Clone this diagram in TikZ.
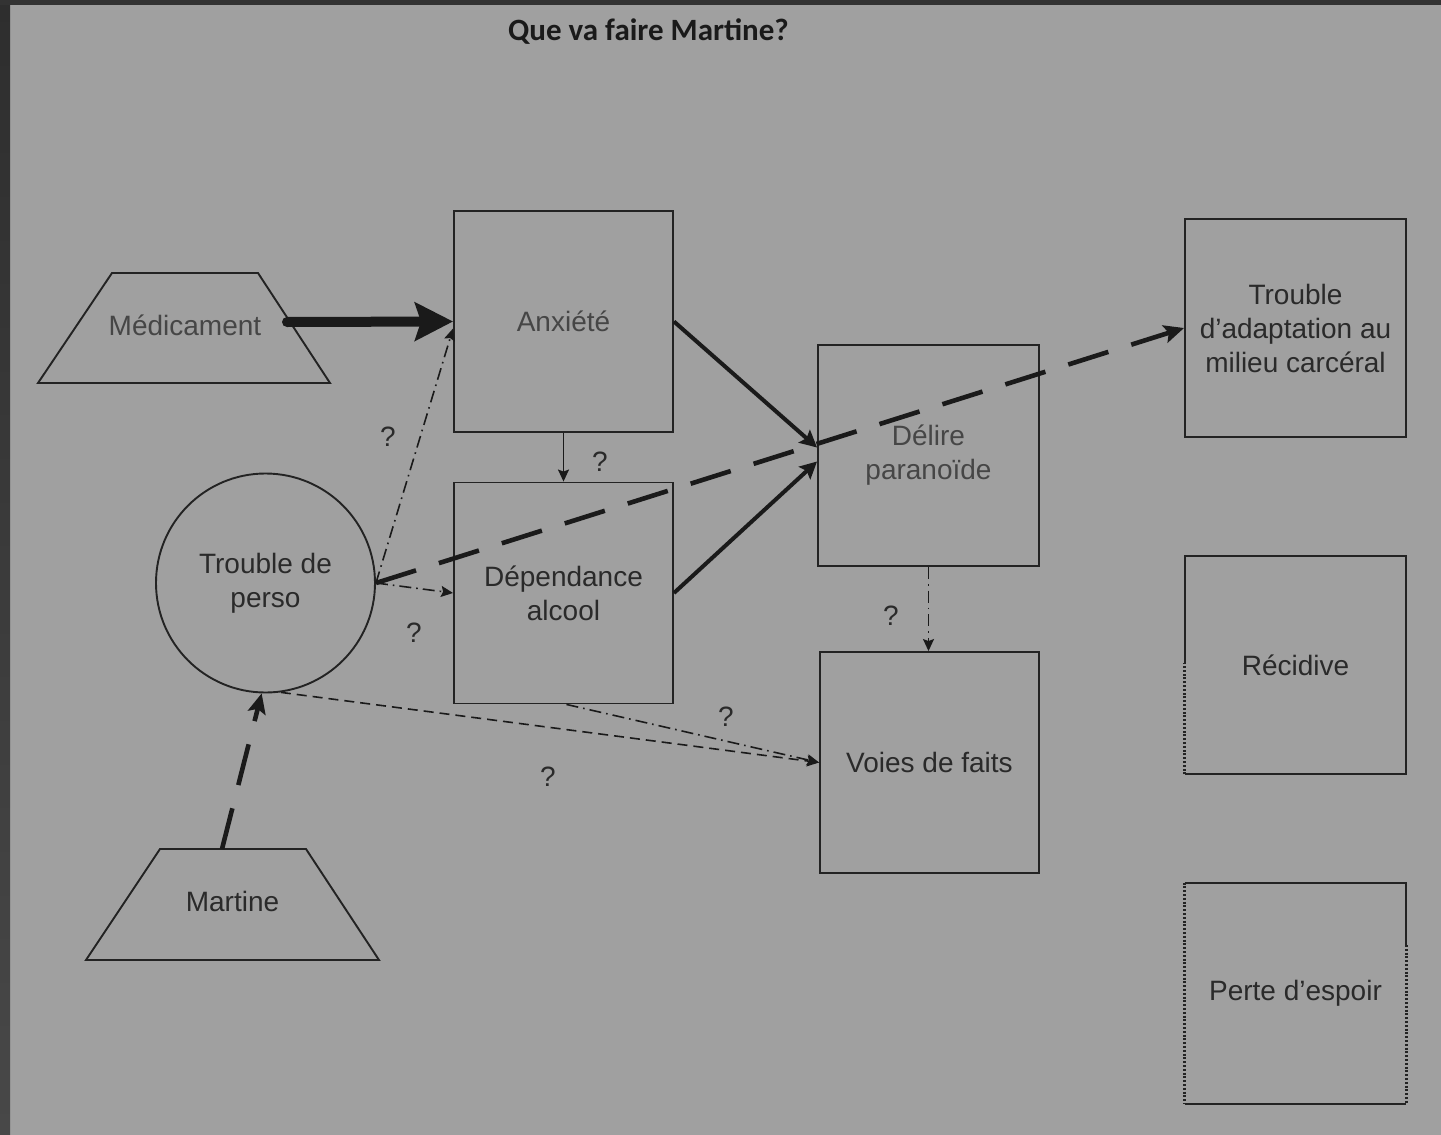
\documentclass[tikz,border=0pt]{standalone}
\usepackage{fontspec}
\setmainfont{Liberation Sans}
\newfontfamily\titlefont{Carlito}
\usetikzlibrary{arrows.meta,calc}
\definecolor{bg}{HTML}{A0A0A0}
\definecolor{frametop}{HTML}{2E2E2E}
\definecolor{framebot}{HTML}{484848}
\definecolor{ink}{HTML}{1A1A1A}
\definecolor{edge}{HTML}{232323}
\definecolor{txt}{HTML}{2A2A2A}
\definecolor{txtsoft}{HTML}{464646}

\begin{document}
\begin{tikzpicture}[x=0.5pt,y=-0.5pt,
  lbl/.style={font=\fontsize{14}{17}\selectfont, text=txt, align=center},
  box/.style={lbl, draw=edge, line width=0.95pt, minimum width=109.5pt,
              minimum height=110.5pt, inner sep=0pt},
  openbox/.style={lbl, minimum width=110.5pt, minimum height=109pt, inner sep=0pt},
  outline/.style={draw=edge, line width=0.95pt, line join=miter},
  round/.style={lbl, draw=edge, line width=0.95pt, circle, minimum size=109.5pt, inner sep=0pt},
  qmark/.style={font=\fontsize{14}{17}\selectfont, text=txt},
  dotline/.style={draw=edge, line width=1.2pt, dash pattern=on 1pt off 0.9pt},
  solidline/.style={draw=edge, line width=0.95pt},
  heavy/.style={draw=ink, line width=5pt, line cap=round,
                -{Stealth[length=19pt,width=19pt,inset=3pt]}},
  strong/.style={draw=ink, line width=2pt, -{Stealth[length=8.5pt,width=8.5pt,inset=1.5pt]}},
  longdash/.style={draw=ink, line width=2.3pt, dash pattern=on 21pt off 12pt,
                   -{Stealth[length=10pt,width=9pt,inset=2pt]}},
  thin/.style={draw=ink, line width=0.8pt, -{Stealth[length=6pt,width=5.5pt,inset=1pt]}},
  dashdot/.style={thin, dash pattern=on 6pt off 2.5pt on 0.8pt off 2.5pt},
  shortdash/.style={thin, dash pattern=on 5pt off 3pt}]

% page and dark frame
\useasboundingbox (0,0) rectangle (1441,1135);
\fill[bg] (0,0) rectangle (1441,1135);
\shade[top color=frametop, bottom color=framebot] (0,0) rectangle (10,1135);
\fill[frametop!80!framebot] (0,0) rectangle (1441,5);

% title
\node[font=\titlefont\bfseries\fontsize{15.5}{18}\selectfont, text=ink] (title) at (648.5,32) {Que va faire Martine?};

% trapezoid inputs
\draw[outline] (112,273) -- (258,273) -- (330,383) -- (38,383) -- cycle;
\node[lbl, text=txtsoft] (medic) at (185,325) {Médicament};
\coordinate (medicout) at (287,322);
\draw[outline] (160,849) -- (306,849) -- (379,960) -- (86,960) -- cycle;
\node[lbl] (martine) at (232.5,901) {Martine};
\coordinate (martinetop) at (222,849);

% nodes
\node[round] (tp) at (265.5,583) {Trouble de\\perso};
\node[box, text=txtsoft] (anx) at (563.5,321.5) {Anxiété};
\node[box] (dep) at (563.5,593) {Dépendance\\alcool};
\node[box, minimum width=110.5pt, text=txtsoft] (delire) at (928.5,455.5) {Délire\\paranoïde};
\node[box] (voies) at (929.5,762.5) {Voies de faits};
\node[box, minimum width=110.5pt, minimum height=109pt] (trad) at (1295.5,328) {Trouble\\d’adaptation au\\milieu carcéral};
\node[openbox] (recid) at (1295.5,665) {Récidive};
\node[openbox, minimum height=110.5pt] (perte) at (1295.5,993.5) {Perte d’espoir};

% partly dotted outlines
\draw[solidline] (recid.west |- 0,663) -- (recid.north west) -- (recid.north east)
  -- (recid.south east) -- (recid.south west);
\draw[dotline] (recid.south west) -- (recid.west |- 0,663);
\draw[solidline] (perte.south west) -- (perte.south east);
\draw[solidline] (perte.north west) -- (perte.north east) -- (perte.east |- 0,945);
\draw[dotline] (perte.east |- 0,945) -- (perte.south east);
\draw[dotline] (perte.north west) -- (perte.south west);

% connectors
\draw[heavy] (medicout) -- (anx.west);
\draw[strong] (anx.east) -- ($(delire.west)+(0,-8)$);
\draw[strong] (dep.east) -- ($(delire.west)+(0,6)$);
\draw[thin] (anx.south) -- (dep.north);
\draw[dashdot] (tp.east) -- ($(anx.west)+(0,7)$);
\draw[dashdot] (tp.east) -- (dep.west);
\draw[longdash] (tp.east) -- (trad.west);
\draw[shortdash] (tp.-82) -- (voies.west);
\draw[dashdot] ($(dep.south)+(3,0)$) -- (voies.west);
\draw[dashdot] (delire.south) -- (delire.south |- voies.north);
\draw[longdash] (martinetop) -- (tp.-92);

% question marks
\node[qmark] (q1) at (388,437) {?};
\node[qmark] (q2) at (600,462) {?};
\node[qmark] (q3) at (414,633) {?};
\node[qmark] (q4) at (891,616) {?};
\node[qmark] (q5) at (726,717) {?};
\node[qmark] (q6) at (548,777) {?};
\end{tikzpicture}
\end{document}
